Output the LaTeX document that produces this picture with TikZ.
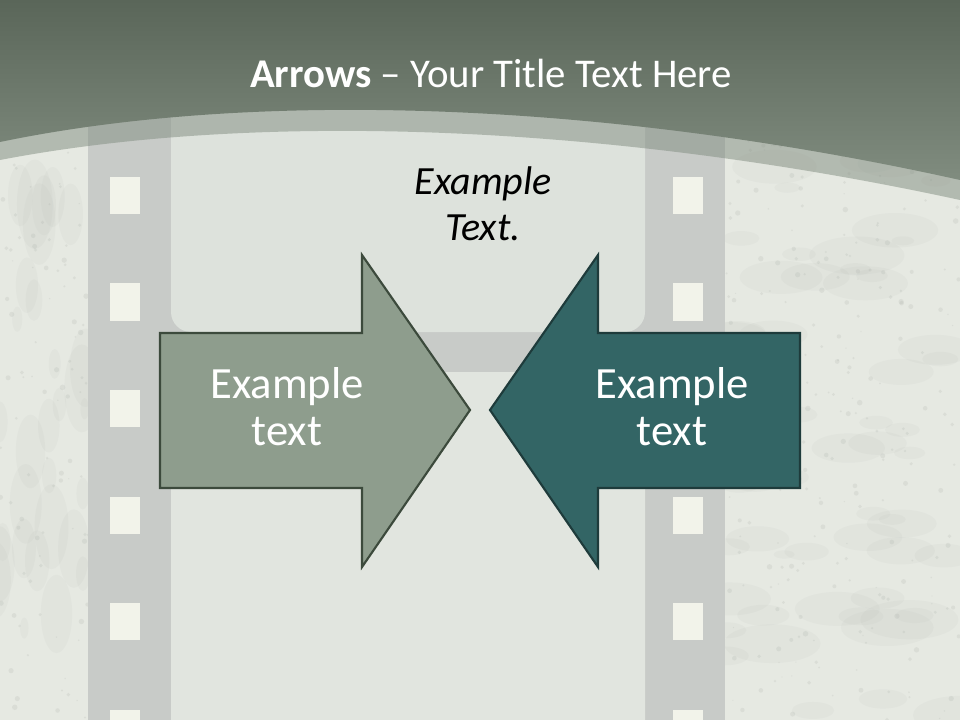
\documentclass[tikz,border=0pt]{standalone}
\usepackage{fontspec}
\setmainfont{Carlito}
\definecolor{hdrtop}{HTML}{5A6659}
\definecolor{hdrbot}{HTML}{808C7F}
\definecolor{bgc}{HTML}{E6E9E2}
\definecolor{stripc}{HTML}{C8CBC8}
\definecolor{framec}{HTML}{DDE2DC}
\definecolor{frametwo}{HTML}{E1E5DF}
\definecolor{holec}{HTML}{F2F3EA}
\definecolor{leftfill}{HTML}{8E9D8D}
\definecolor{leftdraw}{HTML}{3C4A3C}
\definecolor{rightfill}{HTML}{336565}
\definecolor{rightdraw}{HTML}{1E3B3B}
\definecolor{grunge}{HTML}{A4A9A3}
\tikzset{
  hole/.style={fill=holec},
  arrowL/.style={fill=leftfill, draw=leftdraw, line width=1.6pt, line join=miter},
  arrowR/.style={fill=rightfill, draw=rightdraw, line width=1.6pt, line join=miter},
  arrowtext/.style={text=white, align=center, font=\fontsize{33.5}{35}\selectfont, anchor=base},
  blob/.style={fill=grunge, opacity=0.07},
  speck/.style={fill=grunge, opacity=0.18}
}
\begin{document}
\begin{tikzpicture}[x=0.75pt,y=-0.75pt]
\useasboundingbox (0,0) rectangle (960,720);
\fill[bgc] (0,0) rectangle (960,720);
% grunge texture at the sides
\pgfmathsetseed{11}
\foreach \i in {1,...,60}{
  \pgfmathsetmacro{\xx}{725+240*rnd}
  \pgfmathsetmacro{\yy}{140+590*rnd}
  \pgfmathsetmacro{\rr}{10+40*rnd}
  \fill[blob] (\xx,\yy) ellipse ({\rr} and {\rr*0.4});
}
\foreach \i in {1,...,30}{
  \pgfmathsetmacro{\xx}{-5+95*rnd}
  \pgfmathsetmacro{\yy}{140+590*rnd}
  \pgfmathsetmacro{\rr}{10+35*rnd}
  \fill[blob] (\xx,\yy) ellipse ({\rr*0.4} and {\rr});
}
\foreach \i in {1,...,260}{
  \pgfmathsetmacro{\xx}{725+240*rnd}
  \pgfmathsetmacro{\yy}{140+590*rnd}
  \pgfmathsetmacro{\rr}{0.6+2.2*rnd}
  \fill[speck] (\xx,\yy) circle ({\rr});
}
\foreach \i in {1,...,100}{
  \pgfmathsetmacro{\xx}{90*rnd}
  \pgfmathsetmacro{\yy}{140+590*rnd}
  \pgfmathsetmacro{\rr}{0.6+2.2*rnd}
  \fill[speck] (\xx,\yy) circle ({\rr});
}
% film strip
\fill[stripc] (88,0) rectangle (725,720);
\foreach \y in {177,283.5,390,496.5,603,709.5}{
  \fill[hole] (110,\y) rectangle (140,\y+37);
  \fill[hole] (673,\y) rectangle (703,\y+37);
}
\fill[framec, rounded corners=15] (171,40) rectangle (645,332);
\fill[frametwo, rounded corners=15] (171,372) rectangle (645,760);
% header
\fill[hdrbot, opacity=0.5] (0,0) -- (960,0) -- (960,200) .. controls (600,122) and (250,112) .. (0,160) -- cycle;
\path[top color=hdrtop, bottom color=hdrbot] (0,0) -- (960,0) -- (960,180) .. controls (600,100) and (250,90) .. (0,142) -- cycle;
\node[text=white, anchor=base, font=\fontsize{30.6}{36}\selectfont] (title) at (491,88) {\textbf{Arrows} -- Your Title Text Here};
% italic label
\node[text=black, align=center, anchor=base, font=\fontsize{30}{35}\selectfont\itshape] (label) at (483,241) {Example\\Text.};
% arrows
\draw[arrowL] (160,333) -- (362,333) -- (362,255) -- (470,410) -- (362,567) -- (362,488) -- (160,488) -- cycle;
\draw[arrowR] (800,333) -- (598,333) -- (598,255) -- (490,410) -- (598,567) -- (598,488) -- (800,488) -- cycle;
\node[arrowtext] (lefttext) at (287,445) {Example\\text};
\node[arrowtext] (righttext) at (672,445) {Example\\text};
\end{tikzpicture}
\end{document}
